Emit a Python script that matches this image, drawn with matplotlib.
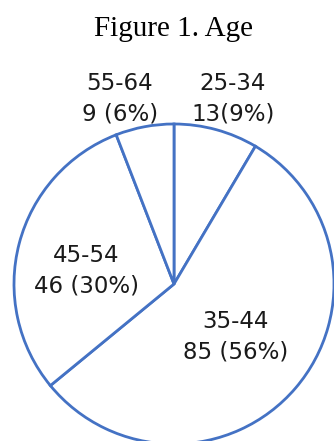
import matplotlib
matplotlib.use("Agg")
import matplotlib.pyplot as plt

# age groups and counts
grupos = ["25-34", "35-44", "45-54", "55-64"]
contagens = [13, 85, 46, 9]
rotulos = ["25-34\n13(9%)", "35-44\n85 (56%)", "45-54\n46 (30%)", "55-64\n9 (6%)"]

W, H = 334, 441
fig = plt.figure(figsize=(W / 100, H / 100), dpi=100)
ax = fig.add_axes([0, 0, 1, 1])
ax.set_xlim(0, W)
ax.set_ylim(0, H)
ax.set_aspect("equal")
ax.axis("off")

# pie: white slices with blue edges, clockwise from the top
cx, cy, r = 174, H - 284, 160
ax.pie(contagens, center=(cx, cy), radius=r, startangle=90, counterclock=False,
       colors=["white"] * len(contagens),
       wedgeprops=dict(edgecolor="#4472C4", linewidth=2))
ax.set_xlim(0, W)
ax.set_ylim(0, H)

# labels
posicoes = [(233, H - 99), (236, H - 337), (86, H - 271), (120, H - 99)]
for txt, (x, y) in zip(rotulos, posicoes):
    ax.text(x, y, txt, ha="center", va="center", fontsize=16.5,
            family="DejaVu Sans", color="#1a1a1a", linespacing=1.4)

ax.text(174, H - 29, "Figure 1. Age", ha="center", va="center",
        fontsize=21, family="Liberation Serif", color="black")

fig.savefig("out.png", dpi=100)
